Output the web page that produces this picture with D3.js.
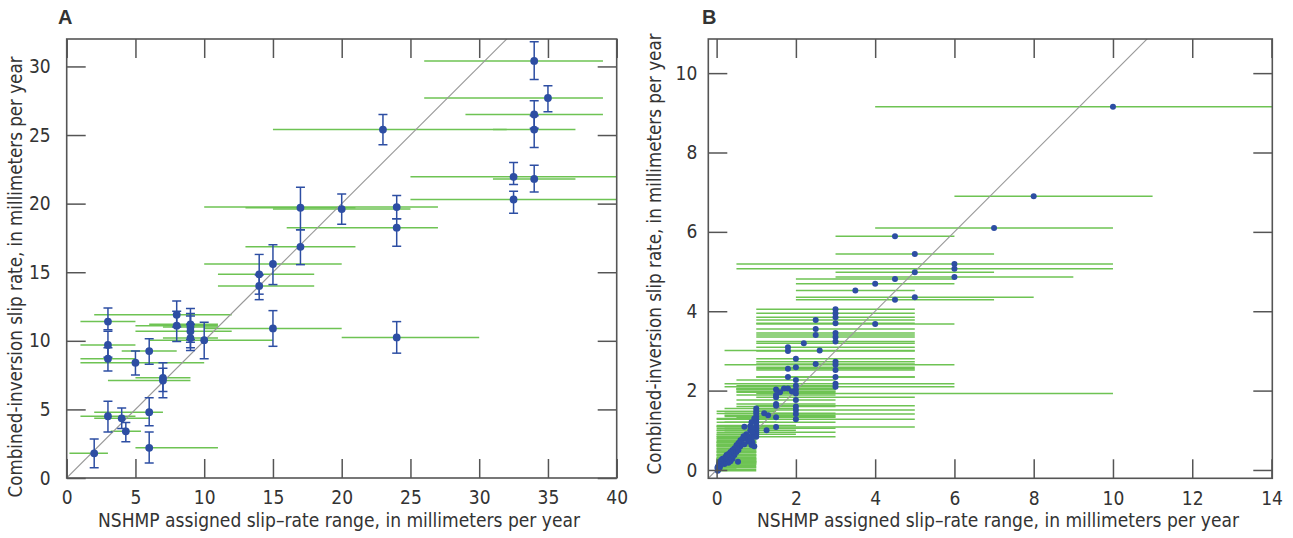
<!DOCTYPE html>
<html>
<head>
<meta charset="utf-8">
<script src="https://cdn.jsdelivr.net/npm/d3@7"></script>
<style>
  body { margin: 0; background: #fff; }
  svg text { font-family: "Liberation Sans Narrow", "DejaVu Sans Condensed", "Roboto", Arial, sans-serif; fill: #333; }
  .panel-label { font-family: "Liberation Sans", Arial, sans-serif; font-weight: bold; }
</style>
</head>
<body>
<svg id="chart" width="1293" height="538"></svg>
<script>
// =============================================================================
// DATA
// =============================================================================

// Panel A: [NSHMP rate, inversion rate, inversion low, inversion high, NSHMP range low, NSHMP range high]
const panelARows = [
    [2, 1.8, 0.75, 2.85, 0.2, 3],
    [3, 4.5, 3.35, 5.6, 1, 5],
    [4, 4.35, 3.6, 5.1, 2, 6],
    [4.3, 3.4, 2.65, 4.05, 3.2, 5.4],
    [6, 4.8, 3.8, 5.85, 2, 7],
    [6, 2.2, 1.1, 3.35, 5, 11],
    [3, 11.4, 10.8, 12.4, 1, 5],
    [3, 9.7, 8.8, 10.7, 1, 5],
    [3, 8.7, 7.8, 9.5, 1, 5],
    [5, 8.4, 7.5, 9.25, 1, 10],
    [6, 9.25, 8.3, 10.15, 4, 8],
    [7, 7.3, 6.3, 8.4, 5, 9],
    [7, 7.1, 5.85, 8.0, 3, 9],
    [8, 11.9, 11.0, 12.9, 2, 12],
    [8, 11.1, 9.95, 12.15, 5, 11],
    [9, 11.2, 10.1, 12.35, 6, 11],
    [9, 11.0, 9.9, 12.0, 7, 11],
    [9, 10.7, 9.5, 11.8, 5, 12],
    [9, 10.2, 9.3, 11.2, 7, 11],
    [10, 10.05, 8.7, 11.35, 6, 15],
    [15, 10.9, 9.6, 12.2, 10, 20],
    [14, 14.0, 13.0, 14.8, 11, 18],
    [14, 14.85, 13.4, 16.3, 11, 18],
    [15, 15.6, 14.1, 17.0, 10, 20],
    [17, 16.85, 15.55, 18.1, 13, 21],
    [17, 19.7, 18.1, 21.2, 13, 21],
    [20, 19.6, 18.5, 20.7, 15, 25],
    [24, 19.75, 18.9, 20.6, 10, 27],
    [24, 18.25, 16.9, 18.9, 16, 27],
    [23, 25.4, 24.3, 26.5, 15, 32],
    [24, 10.25, 9.1, 11.4, 20, 30],
    [32.5, 21.95, 21.4, 23.0, 25, 40],
    [32.5, 20.3, 19.3, 20.9, 25, 40],
    [34, 21.8, 20.85, 22.8, 31, 37],
    [34, 30.4, 29.05, 31.8, 26, 39],
    [35, 27.7, 26.7, 28.6, 26, 39],
    [34, 26.5, 25.5, 27.5, 29, 39],
    [34, 25.4, 24.1, 26.4, 31, 37]
];

// Panel B: [NSHMP rate, inversion rate, NSHMP range low, NSHMP range high]
const panelBRows = [
    [10, 9.15, 4, 14.5], [8, 6.9, 6, 11], [7, 6.1, 4, 10],
    [4.5, 5.89, 3, 6], [5, 5.44, 3, 7], [6, 5.19, 0.5, 10], [6, 5.07, 0.5, 10],
    [6, 4.86, 3, 9], [5, 4.98, 3, 7], [4.5, 4.81, 2, 6], [4, 4.69, 2, 6],
    [3.5, 4.52, 2, 5], [4.5, 4.29, 2, 7], [5, 4.35, 2, 8], [4, 3.68, 1, 6],
    [3, 4.05, 1, 5], [3, 3.95, 1, 5], [3, 3.85, 1, 5], [3, 3.70, 1, 5],
    [3, 3.45, 1, 5], [3, 3.35, 1, 5], [3, 3.24, 1, 5], [3, 2.73, 1, 5],
    [3, 2.65, 0.2, 6], [3, 2.52, 1, 5], [3, 2.34, 1, 5], [3, 2.17, 0.2, 6], [3, 2.10, 0.2, 6],
    [2.5, 3.78, 1, 5], [2.5, 3.55, 1, 5], [2.5, 3.40, 1, 5], [2.5, 2.67, 1, 5],
    [2.6, 3.01, 0.2, 5], [2.2, 3.19, 1, 5],
    [1.8, 3.09, 1, 5], [1.8, 3.0, 1, 5], [1.8, 2.55, 1, 5], [1.8, 2.34, 1, 5],
    [2, 2.80, 1, 5], [2, 2.59, 1, 5], [2, 2.27, 0.5, 3], [2, 2.12, 0.5, 3], [2, 2.02, 0.5, 3],
    [2, 1.93, 1, 10], [2, 1.76, 0.5, 3], [2, 1.60, 0.5, 3], [2, 1.51, 1, 5],
    [2, 1.41, 1, 5], [2, 1.28, 1, 5],
    [1.7, 2.05, 0.5, 3], [1.8, 2.05, 0.5, 3], [1.9, 1.98, 0.5, 3], [1.6, 1.96, 0.5, 3],
    [1.5, 2.03, 0.5, 3], [1.5, 1.89, 0.5, 3], [1.5, 1.83, 1, 5], [1.5, 1.66, 0.5, 3],
    [1.5, 1.62, 1, 5], [1.5, 1.33, 0.5, 3], [1.5, 1.08, 1, 5],
    [1.2, 1.43, 0.2, 3], [1.3, 1.38, 0.2, 3], [1.26, 1.0, 0.2, 2],
    [1, 1.55, 0.2, 2], [1, 1.48, 0, 1.5], [1, 1.42, 0, 2], [1, 1.35, 0.2, 3],
    [1, 1.28, 0, 1.5], [1, 1.2, 0.2, 3], [1, 1.12, 0, 2], [1, 1.05, 0.2, 3],
    [1, 1.0, 0, 1.5], [1, 0.95, 0.2, 3], [1, 0.9, 0, 2], [1, 0.84, 0.2, 3],
    [0.95, 1.3, 0, 1.5], [0.88, 1.2, 0, 1.5], [0.85, 1.1, 0, 1], [0.85, 1.0, 0, 1],
    [0.9, 1.05, 0, 1], [0.9, 0.95, 0, 1], [0.9, 0.82, 0, 1], [0.9, 0.7, 0, 1],
    [0.88, 0.63, 0, 1], [0.95, 0.6, 0, 1],
    [0.8, 0.85, 0, 1], [0.8, 0.72, 0, 1], [0.75, 0.9, 0, 1], [0.7, 1.09, 0, 1.5],
    [0.7, 0.8, 0, 1], [0.68, 0.85, 0, 1], [0.7, 0.65, 0, 1], [0.65, 0.78, 0, 1],
    [0.6, 0.75, 0, 1], [0.6, 0.7, 0, 1], [0.6, 0.6, 0, 1], [0.55, 0.68, 0, 1],
    [0.55, 0.5, 0, 1], [0.54, 0.21, 0, 1], [0.5, 0.62, 0, 1], [0.5, 0.55, 0, 1],
    [0.5, 0.45, 0, 1], [0.45, 0.55, 0, 1], [0.45, 0.38, 0, 1], [0.4, 0.5, 0, 1],
    [0.4, 0.45, 0, 1], [0.4, 0.35, 0, 1], [0.4, 0.28, 0, 1], [0.35, 0.45, 0, 1],
    [0.35, 0.3, 0, 1], [0.35, 0.22, 0, 1], [0.3, 0.4, 0, 1], [0.3, 0.25, 0, 1],
    [0.3, 0.18, 0, 1], [0.25, 0.38, 0, 1], [0.25, 0.2, 0, 1], [0.22, 0.32, 0, 1],
    [0.2, 0.28, 0, 1], [0.2, 0.15, 0, 1], [0.15, 0.28, 0, 0.5], [0.15, 0.18, 0, 1],
    [0.12, 0.25, 0, 1], [0.1, 0.22, 0, 1], [0.1, 0.12, 0, 1], [0.08, 0.06, 0, 1],
    [0.06, 0.15, 0, 1], [0.05, 0.1, 0, 0.5], [0.05, 0.02, 0, 1], [0.03, 0.08, 0, 1],
    [0.02, 0.05, 0, 0.5], [0.03, -0.02, 0, 1]
];

const panelATicksX = d3.range(0, 41, 5);
const panelATicksY = d3.range(0, 31, 5);
const panelBTicksX = d3.range(0, 15, 2);
const panelBTicksY = d3.range(0, 11, 2);

const xTitle = 'NSHMP assigned slip\u2013rate range, in millimeters per year';
const yTitle = 'Combined-inversion slip rate, in millimeters per year';

// =============================================================================
// DRAW
// =============================================================================

const GREEN = '#6ec353';
const BLUE = '#2d4ea3';
const FRAME = '#555';
const svg = d3.select('#chart');

function drawPanel(cfg) {
    const g = svg.append('g');
    const x = d3.scaleLinear().domain(cfg.xDomain).range([cfg.left, cfg.right]);
    const y = d3.scaleLinear().domain(cfg.yDomain).range([cfg.bottom, cfg.top]);

    svg.append('clipPath').attr('id', cfg.id + '-clip')
        .append('rect')
        .attr('x', cfg.left).attr('y', cfg.top)
        .attr('width', cfg.right - cfg.left).attr('height', cfg.bottom - cfg.top);

    const plot = g.append('g').attr('clip-path', `url(#${cfg.id}-clip)`);

    // NSHMP ranges
    plot.selectAll('.range')
        .data(cfg.rows)
        .enter()
        .append('line')
        .attr('x1', d => x(d[cfg.loIdx])).attr('x2', d => x(d[cfg.hiIdx]))
        .attr('y1', d => y(d[1])).attr('y2', d => y(d[1]))
        .attr('stroke', GREEN)
        .attr('stroke-width', 1.5);

    // 1:1 line
    const lo = Math.min(cfg.xDomain[0], cfg.yDomain[0]);
    const hi = Math.max(cfg.xDomain[1], cfg.yDomain[1]);
    plot.append('line')
        .attr('x1', x(lo)).attr('y1', y(lo))
        .attr('x2', x(hi)).attr('y2', y(hi))
        .attr('stroke', '#999')
        .attr('stroke-width', 1.1);

    // Error bars (panel A only)
    if (cfg.errors) {
        const eb = plot.selectAll('.err').data(cfg.rows).enter().append('g')
            .attr('stroke', BLUE).attr('stroke-width', 1.5);
        eb.append('line')
            .attr('x1', d => x(d[0])).attr('x2', d => x(d[0]))
            .attr('y1', d => y(d[2])).attr('y2', d => y(d[3]));
        eb.append('line')
            .attr('x1', d => x(d[0]) - 4.5).attr('x2', d => x(d[0]) + 4.5)
            .attr('y1', d => y(d[2])).attr('y2', d => y(d[2]));
        eb.append('line')
            .attr('x1', d => x(d[0]) - 4.5).attr('x2', d => x(d[0]) + 4.5)
            .attr('y1', d => y(d[3])).attr('y2', d => y(d[3]));
    }

    // Points
    plot.selectAll('.dot')
        .data(cfg.rows)
        .enter()
        .append('circle')
        .attr('cx', d => x(d[0]))
        .attr('cy', d => y(d[1]))
        .attr('r', cfg.r)
        .attr('fill', BLUE);

    // Axes with inward ticks on all four sides
    const tick = 19;
    const styleAxis = ax => {
        ax.select('.domain').remove();
        ax.selectAll('.tick line').attr('stroke', FRAME).attr('stroke-width', 1.5);
        ax.selectAll('.tick text').attr('fill', '#333').attr('font-size', '19px');
    };
    g.append('g').attr('transform', `translate(0,${cfg.bottom})`)
        .call(d3.axisBottom(x).tickValues(cfg.ticksX).tickSize(-tick).tickPadding(13))
        .call(styleAxis);
    g.append('g').attr('transform', `translate(0,${cfg.top})`)
        .call(d3.axisTop(x).tickValues(cfg.ticksX).tickSize(-tick).tickFormat(''))
        .call(styleAxis);
    g.append('g').attr('transform', `translate(${cfg.left},0)`)
        .call(d3.axisLeft(y).tickValues(cfg.ticksY).tickSize(-tick).tickPadding(cfg.yPad))
        .call(styleAxis);
    g.append('g').attr('transform', `translate(${cfg.right},0)`)
        .call(d3.axisRight(y).tickValues(cfg.ticksY).tickSize(-tick).tickFormat(''))
        .call(styleAxis);

    // Frame
    g.append('rect')
        .attr('x', cfg.left).attr('y', cfg.top)
        .attr('width', cfg.right - cfg.left).attr('height', cfg.bottom - cfg.top)
        .attr('fill', 'none')
        .attr('stroke', FRAME)
        .attr('stroke-width', 1.6);

    // Titles
    g.append('text')
        .attr('x', cfg.xTitleX).attr('y', 527)
        .attr('text-anchor', 'middle')
        .attr('font-size', '19px')
        .attr('textLength', 482).attr('lengthAdjust', 'spacingAndGlyphs')
        .text(xTitle);
    g.append('text')
        .attr('transform', `translate(${cfg.yTitleX},${cfg.yTitleY}) rotate(-90)`)
        .attr('text-anchor', 'middle')
        .attr('font-size', '19px')
        .attr('textLength', 441).attr('lengthAdjust', 'spacingAndGlyphs')
        .text(yTitle);
    g.append('text')
        .attr('class', 'panel-label')
        .attr('x', cfg.labelX).attr('y', 24)
        .attr('font-size', '20px')
        .attr('fill', '#222')
        .text(cfg.label);
}

drawPanel({
    id: 'a', label: 'A', labelX: 58,
    rows: panelARows, loIdx: 4, hiIdx: 5, errors: true, r: 3.9,
    xDomain: [0, 40], yDomain: [0, 32],
    left: 66.7, right: 616.7, top: 39, bottom: 478,
    ticksX: panelATicksX, ticksY: panelATicksY, yPad: 16,
    xTitleX: 339, yTitleX: 21.5, yTitleY: 277
});

drawPanel({
    id: 'b', label: 'B', labelX: 702,
    rows: panelBRows, loIdx: 2, hiIdx: 3, errors: false, r: 3,
    xDomain: [-0.21, 14.02], yDomain: [-0.21, 10.86],
    left: 708.3, right: 1272.3, top: 39, bottom: 478.3,
    ticksX: panelBTicksX, ticksY: panelBTicksY, yPad: 11,
    xTitleX: 998, yTitleX: 661, yTitleY: 254
});
</script>
</body>
</html>
